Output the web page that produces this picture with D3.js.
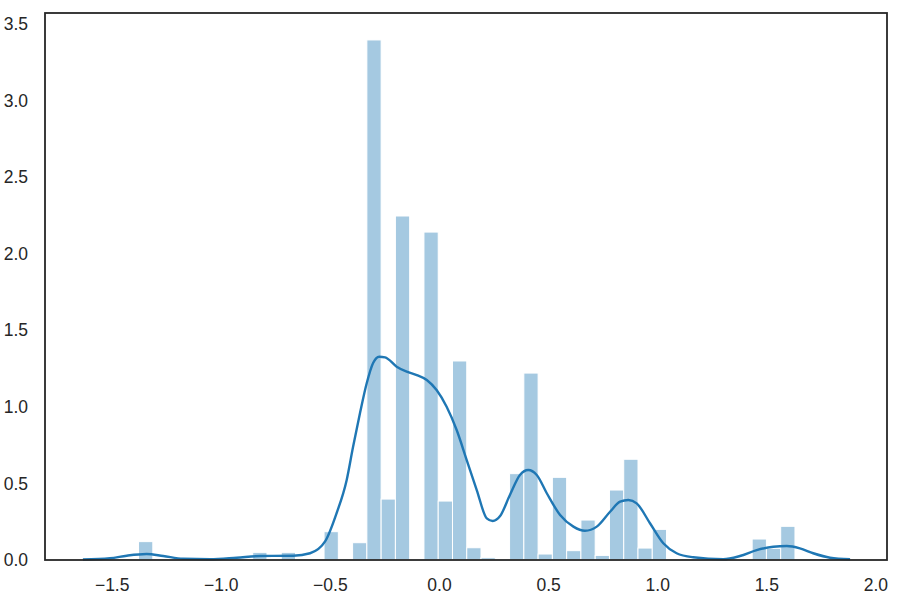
<!DOCTYPE html>
<html>
<head>
<meta charset="utf-8">
<script src="https://cdn.jsdelivr.net/npm/d3@7"></script>
<style>
  body { margin: 0; background: #fff; }
  svg { display: block; }
  .tick text { font-family: "Liberation Sans", Arial, sans-serif; font-size: 17.5px; fill: #262626; }
</style>
</head>
<body>
<svg id="chart" width="900" height="600"></svg>
<script>
// histogram: 46 equal bins starting at binStart, density heights
const binStart = -1.377;
const binWidth = 0.0654;
const binHeights = [
  0.12, 0, 0, 0, 0, 0, 0, 0, 0.05, 0,
  0.05, 0, 0, 0.185, 0, 0.113, 3.397, 0.398, 2.247, 0,
  2.142, 0.385, 1.30, 0.08, 0.015, 0, 0.564, 1.221, 0.039, 0.54,
  0.061, 0.261, 0.03, 0.457, 0.658, 0.078, 0.20, 0, 0.01, 0,
  0, 0, 0, 0.137, 0.076, 0.22
];

// kde curve
const kdeX = [-1.632, -1.508, -1.431, -1.340, -1.264, -1.172, -1.049, -0.927, -0.820, -0.668,
  -0.591, -0.522, -0.469, -0.423, -0.394, -0.362, -0.331, -0.302, -0.274, -0.247,
  -0.194, -0.148, -0.102, -0.056, -0.011, 0.035, 0.081, 0.127, 0.173, 0.219,
  0.246, 0.280, 0.325, 0.371, 0.409, 0.448, 0.494, 0.555, 0.616, 0.669,
  0.723, 0.784, 0.830, 0.868, 0.906, 0.967, 1.028, 1.089, 1.165, 1.303,
  1.379, 1.456, 1.532, 1.594, 1.654, 1.715, 1.792, 1.884];
const kdeY = [0.003, 0.011, 0.028, 0.039, 0.026, 0.008, 0.005, 0.015, 0.026, 0.028,
  0.044, 0.121, 0.307, 0.523, 0.738, 0.960, 1.156, 1.287, 1.328, 1.324,
  1.263, 1.230, 1.208, 1.176, 1.110, 1.001, 0.849, 0.653, 0.457, 0.272,
  0.255, 0.287, 0.425, 0.555, 0.588, 0.555, 0.436, 0.294, 0.218, 0.191,
  0.218, 0.315, 0.381, 0.392, 0.370, 0.240, 0.109, 0.044, 0.018, 0.005,
  0.026, 0.065, 0.087, 0.091, 0.076, 0.044, 0.015, 0.005];

const xTicks = [-1.5, -1.0, -0.5, 0.0, 0.5, 1.0, 1.5, 2.0];
const yTicks = [0.0, 0.5, 1.0, 1.5, 2.0, 2.5, 3.0, 3.5];

const svg = d3.select("#chart");
const margin = {left: 45, top: 13, right: 13, bottom: 40};
const w = 900 - margin.left - margin.right,
      h = 600 - margin.top - margin.bottom;

const x = d3.scaleLinear().domain([-1.8057, 2.0532]).range([0, w]);
const y = d3.scaleLinear().domain([0, 3.573]).range([h, 0]);

const g = svg.append("g").attr("transform", `translate(${margin.left},${margin.top})`);

// bars
const bins = binHeights.map((v, i) => ({x0: binStart + i * binWidth, x1: binStart + (i + 1) * binWidth, v: v}));
g.append("g")
  .selectAll("rect")
  .data(bins.filter(d => d.v > 0))
  .enter()
  .append("rect")
    .attr("x", d => x(d.x0))
    .attr("width", d => x(d.x1) - x(d.x0))
    .attr("y", d => y(d.v))
    .attr("height", d => y(0) - y(d.v))
    .attr("fill", "rgb(165,201,225)")
    .attr("stroke", "#fff")
    .attr("stroke-width", 1);

// kde line
const pts = kdeX.map((v, i) => [v, kdeY[i]]);
g.append("path")
  .datum(pts)
  .attr("fill", "none")
  .attr("stroke", "#1f77b4")
  .attr("stroke-width", 2.4)
  .attr("stroke-linejoin", "round")
  .attr("d", d3.line().x(d => x(d[0])).y(d => y(d[1])).curve(d3.curveMonotoneX));

// axes, no tick marks
const fmt = d3.format(".1f");
const xAxis = g.append("g")
  .attr("transform", `translate(0,${h})`)
  .call(d3.axisBottom(x).tickValues(xTicks).tickFormat(fmt).tickSize(0).tickPadding(19));
const yAxis = g.append("g")
  .call(d3.axisLeft(y).tickValues(yTicks).tickFormat(fmt).tickSize(0).tickPadding(17));
xAxis.select(".domain").remove();
yAxis.select(".domain").remove();

// frame
g.append("rect")
  .attr("x", 0).attr("y", 0)
  .attr("width", w).attr("height", h)
  .attr("fill", "none")
  .attr("stroke", "#262626")
  .attr("stroke-width", 1.8);
</script>
</body>
</html>
